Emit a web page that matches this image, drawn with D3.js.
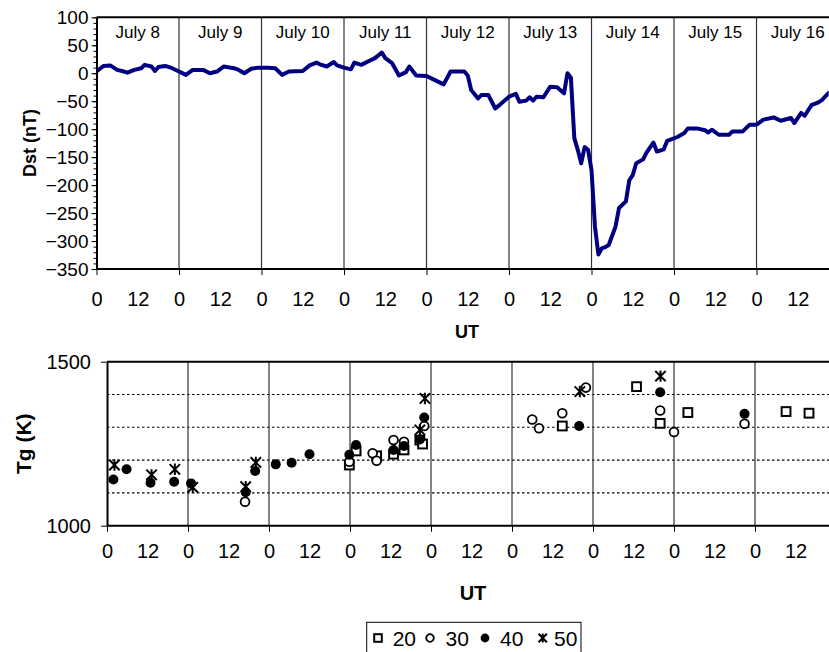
<!DOCTYPE html>
<html>
<head>
<meta charset="utf-8">
<script src="https://cdn.jsdelivr.net/npm/d3@7"></script>
<style>
  body { margin: 0; background: #fff; }
  svg { display: block; font-family: Arial, "Liberation Sans", sans-serif; }
</style>
</head>
<body>
<svg id="chart" width="829" height="652"></svg>
<script>
// ---- data ----
const dayLabels = ["July 8", "July 9", "July 10", "July 11", "July 12", "July 13", "July 14", "July 15", "July 16"];

// Dst index, hours since July 8 00 UT
const dstHours = [0, 2, 4, 6, 8, 9, 11, 13, 14, 16, 17, 18, 20, 22, 24, 26, 28, 31, 33, 35, 37, 40, 41, 43, 45, 47,
  50, 52, 54, 56, 60, 62, 64, 65, 67, 69, 70, 72, 74, 75, 77, 80, 81, 83, 84, 86, 88, 90, 91, 93,
  96, 98, 101, 103, 107, 108, 109, 111, 112, 114, 116, 117, 120, 122, 123, 125, 126, 127, 128, 130, 132, 134, 136, 137, 138,
  139, 140, 141, 142, 143, 144, 145, 146, 147, 148, 149, 151, 152, 154, 155, 156, 157, 159, 160, 162, 163, 165, 166,
  169, 171, 172, 175, 177, 178, 179, 181, 184, 185, 188, 190, 192, 194, 197, 199, 202, 203, 205, 206, 208, 210, 211, 213];
const dstValues = [3, 13, 14, 6, 3, 1, 6, 9, 15, 12, 4, 11, 13, 9, 3, -3, 6, 6, 0, 3, 12, 9, 7, 0, 8, 10,
  10, 9, -3, 3, 4, 14, 19, 16, 12, 20, 14, 10, 7, 19, 15, 24, 27, 37, 27, 18, -4, 2, 12, -4,
  -5, -11, -20, 3, 3, -4, -30, -45, -39, -39, -63, -58, -42, -37, -51, -49, -43, -49, -42, -43, -24, -25, -36, 0, -8,
  -116, -137, -161, -132, -137, -173, -274, -324, -313, -311, -307, -274, -241, -229, -191, -182, -161, -154, -142, -124, -140, -136, -121,
  -114, -107, -99, -99, -102, -106, -101, -110, -110, -104, -104, -92, -92, -83, -79, -85, -80, -89, -71, -76, -57, -52, -48, -35];

const hourTicks = d3.range(0, 205, 12);
const dstMajorTicks = [100, 50, 0, -50, -100, -150, -200, -250, -300, -350];
const dstMinorTicks = d3.range(-350, 101, 10);
const tgTicks = [1000, 1500];
const tgGrid = [1100, 1200, 1300, 1400];

// Tg (K) by altitude series
const tg20Hours = [71.8, 73.8, 79.9, 84.9, 88, 92.7, 93.5, 134.9, 156.9, 163.9, 172.1, 201.2, 208];
const tg20Values = [1185, 1228, 1213, 1218, 1231, 1261, 1249, 1304, 1424, 1312, 1345, 1348, 1343];
const tg30Hours = [40.9, 71.8, 78.7, 79.9, 84.9, 88, 94, 126, 128, 134.9, 141.9, 163.9, 168, 188.9];
const tg30Values = [1073, 1195, 1221, 1198, 1261, 1256, 1304, 1324, 1297, 1343, 1421, 1351, 1286, 1311];
const tg40Hours = [1.9, 5.8, 12.9, 19.9, 24.9, 41.1, 43.9, 50, 54.7, 60, 71.8, 73.8, 84.9, 88, 92.7, 94, 139.9, 163.9, 188.9];
const tg40Values = [1141, 1172, 1131, 1134, 1129, 1102, 1167, 1187, 1192, 1218, 1216, 1246, 1231, 1243, 1263, 1330, 1304, 1407, 1341];
const tg50Hours = [2.2, 13.2, 20.1, 25.4, 41.1, 44.1, 92.7, 94.2, 140.1, 164];
const tg50Values = [1185, 1155, 1172, 1117, 1119, 1193, 1292, 1388, 1409, 1456];
const legendLabels = ["20", "30", "40", "50"];

// ---- layout ----
const svg = d3.select("#chart");
const dayBounds = d3.range(24, 213, 24);
const FONT = "Arial, 'Liberation Sans', sans-serif";

// marker glyphs
function drawMarker(g, kind, size) {
  const s = size;
  if (kind === "square") {
    g.append("rect").attr("x", -s).attr("y", -s).attr("width", 2 * s).attr("height", 2 * s)
      .attr("fill", "#fff").attr("stroke", "#000").attr("stroke-width", 2);
  } else if (kind === "open") {
    g.append("circle").attr("r", s).attr("fill", "#fff").attr("stroke", "#000").attr("stroke-width", 1.8);
  } else if (kind === "filled") {
    g.append("circle").attr("r", s + 0.6).attr("fill", "#000");
  } else {
    g.append("path")
      .attr("d", `M${-s},${-s}L${s},${s}M${-s},${s}L${s},${-s}M0,${-s * 1.1}L0,${s * 1.1}`)
      .attr("stroke", "#000").attr("stroke-width", 2).attr("fill", "none");
  }
}

// ===== Upper panel: Dst =====
const xTop = d3.scaleLinear().domain([0, 213]).range([96.5, 828.7]);
const yTop = d3.scaleLinear().domain([-350, 100]).range([269, 17.3]);

const dstPanel = svg.append("g");

dstPanel.selectAll("line.day").data(dayBounds).join("line")
  .attr("x1", d => xTop(d)).attr("x2", d => xTop(d))
  .attr("y1", yTop(100)).attr("y2", yTop(-350))
  .attr("stroke", "#333").attr("stroke-width", 1.2);

dstPanel.selectAll("text.day").data(dayLabels).join("text")
  .attr("x", (d, i) => xTop(i * 24 + 12)).attr("y", 38)
  .attr("text-anchor", "middle").attr("font-size", 17).attr("fill", "#000")
  .text(d => d);

dstPanel.append("clipPath").attr("id", "clipDst").append("rect")
  .attr("x", xTop(0)).attr("y", yTop(100)).attr("width", xTop(213) - xTop(0)).attr("height", yTop(-350) - yTop(100));

const dstLine = d3.line().x((d, i) => xTop(dstHours[i])).y(d => yTop(d));
dstPanel.append("path").datum(dstValues)
  .attr("clip-path", "url(#clipDst)")
  .attr("d", dstLine)
  .attr("fill", "none").attr("stroke", "#000080").attr("stroke-width", 4)
  .attr("stroke-linejoin", "round").attr("stroke-linecap", "round");

// frame top edge
dstPanel.append("line").attr("x1", xTop(0)).attr("x2", 829).attr("y1", yTop(100)).attr("y2", yTop(100))
  .attr("stroke", "#000").attr("stroke-width", 2);

// y axis
const yAxisMinor = dstPanel.append("g").attr("transform", `translate(${xTop(0)},0)`)
  .call(d3.axisLeft(yTop).tickValues(dstMinorTicks).tickSize(3).tickFormat(""));
yAxisMinor.select(".domain").remove();
const yAxisTop = dstPanel.append("g").attr("transform", `translate(${xTop(0)},0)`)
  .call(d3.axisLeft(yTop).tickValues(dstMajorTicks).tickSize(5).tickSizeOuter(0).tickPadding(3));
yAxisTop.select(".domain").attr("stroke-width", 2);
yAxisTop.selectAll("text").attr("font-size", 19).attr("font-family", FONT).attr("fill", "#000");

// x axis
const xAxisTop = dstPanel.append("g").attr("transform", `translate(0,${yTop(-350)})`)
  .call(d3.axisBottom(xTop).tickValues(hourTicks).tickSize(6).tickSizeOuter(0).tickPadding(17).tickFormat(h => h % 24));
xAxisTop.select(".domain").attr("stroke-width", 2).attr("d", `M${xTop(0)},0H829`);
xAxisTop.selectAll(".tick line").filter(h => h % 24 !== 0).remove();
xAxisTop.selectAll("text").attr("font-size", 20).attr("font-family", FONT).attr("fill", "#000");

dstPanel.append("text").attr("x", 467).attr("y", 338).attr("text-anchor", "middle")
  .attr("font-size", 18).attr("font-weight", "bold").text("UT");
dstPanel.append("text").attr("transform", `translate(36,143) rotate(-90)`).attr("text-anchor", "middle")
  .attr("font-size", 18).attr("font-weight", "bold").text("Dst (nT)");

// ===== Lower panel: Tg =====
const xBot = d3.scaleLinear().domain([0, 214]).range([107, 829.25]);
const yBot = d3.scaleLinear().domain([1000, 1500]).range([525.7, 361.7]);
const tgPanel = svg.append("g");

tgPanel.selectAll("line.grid").data(tgGrid).join("line")
  .attr("x1", xBot(0)).attr("x2", 829).attr("y1", d => yBot(d)).attr("y2", d => yBot(d))
  .attr("stroke", "#000").attr("stroke-width", 1.1).attr("stroke-dasharray", "2.5,2.5");

tgPanel.selectAll("line.day").data(dayBounds).join("line")
  .attr("x1", d => xBot(d)).attr("x2", d => xBot(d))
  .attr("y1", yBot(1500)).attr("y2", yBot(1000))
  .attr("stroke", "#333").attr("stroke-width", 1.2);

tgPanel.append("line").attr("x1", xBot(0)).attr("x2", 829).attr("y1", yBot(1500)).attr("y2", yBot(1500))
  .attr("stroke", "#000").attr("stroke-width", 2);

const tgSeries = [
  { kind: "square", hours: tg20Hours, values: tg20Values },
  { kind: "open", hours: tg30Hours, values: tg30Values },
  { kind: "filled", hours: tg40Hours, values: tg40Values },
  { kind: "star", hours: tg50Hours, values: tg50Values }
];
tgSeries.forEach(s => {
  s.values.forEach((v, i) => {
    const g = tgPanel.append("g").attr("transform", `translate(${xBot(s.hours[i])},${yBot(v)})`);
    drawMarker(g, s.kind, s.kind === "star" ? 5.2 : 4.4);
  });
});

const yAxisBot = tgPanel.append("g").attr("transform", `translate(${xBot(0)},0)`)
  .call(d3.axisLeft(yBot).tickValues(tgTicks).tickSize(6).tickSizeOuter(0).tickPadding(10).tickFormat(d3.format("d")));
yAxisBot.select(".domain").attr("stroke-width", 2);
yAxisBot.selectAll("text").attr("font-size", 20).attr("font-family", FONT).attr("fill", "#000");

const xAxisBot = tgPanel.append("g").attr("transform", `translate(0,${yBot(1000)})`)
  .call(d3.axisBottom(xBot).tickValues(hourTicks).tickSize(6).tickSizeOuter(0).tickPadding(12).tickFormat(h => h % 24));
xAxisBot.select(".domain").attr("stroke-width", 2).attr("d", `M${xBot(0)},0H829`);
xAxisBot.selectAll(".tick line").filter(h => h % 24 !== 0).remove();
xAxisBot.selectAll("text").attr("font-size", 20).attr("font-family", FONT).attr("fill", "#000");

tgPanel.append("text").attr("x", 473).attr("y", 600).attr("text-anchor", "middle")
  .attr("font-size", 20).attr("font-weight", "bold").text("UT");
tgPanel.append("text").attr("transform", `translate(31,443.7) rotate(-90)`).attr("text-anchor", "middle")
  .attr("font-size", 21).attr("font-weight", "bold").text("Tg (K)");

// ===== Legend =====
const legend = svg.append("g");
legend.append("rect").attr("x", 366.7).attr("y", 622.3).attr("width", 214.3).attr("height", 40)
  .attr("fill", "#fff").attr("stroke", "#000").attr("stroke-width", 1);
const legendMarkX = [378, 430, 485, 542.7];
const legendTextX = [392.7, 445.5, 500, 554];
legendLabels.forEach((lab, i) => {
  const g = legend.append("g").attr("transform", `translate(${legendMarkX[i]},638)`);
  drawMarker(g, tgSeries[i].kind, tgSeries[i].kind === "star" ? 4.2 : 3.8);
  legend.append("text").attr("x", legendTextX[i]).attr("y", 646).attr("font-size", 21).attr("fill", "#000").text(lab);
});
</script>
</body>
</html>
